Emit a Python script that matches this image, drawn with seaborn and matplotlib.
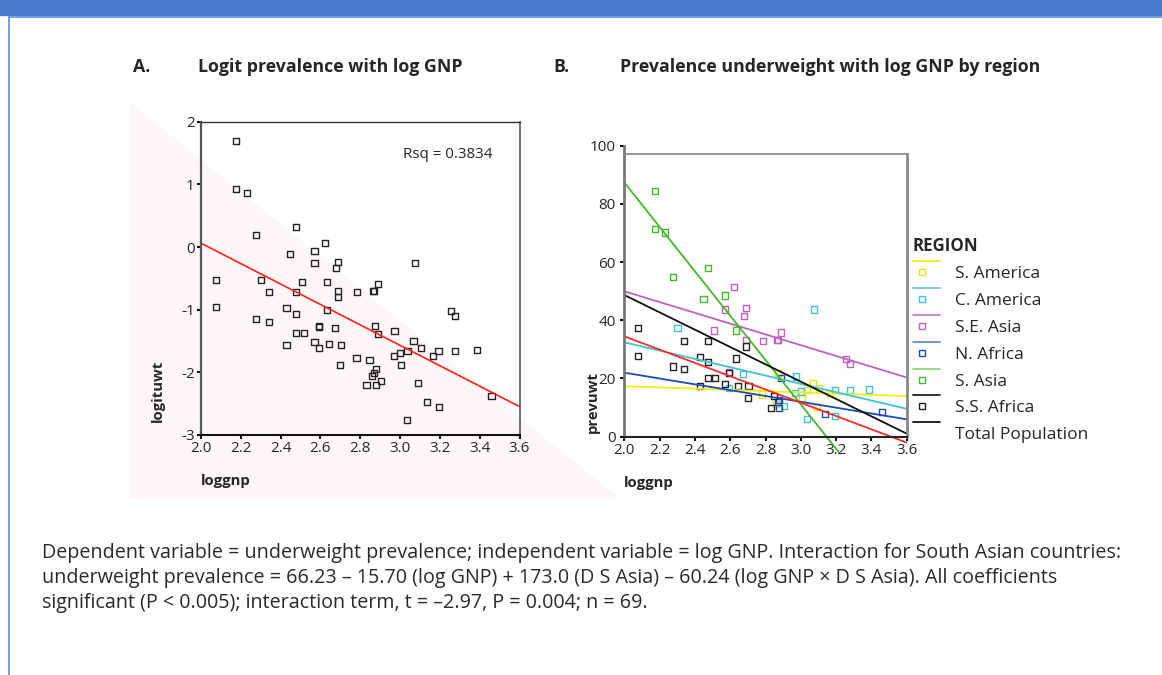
import matplotlib
matplotlib.use("Agg")
import matplotlib.pyplot as plt
from matplotlib.lines import Line2D
from matplotlib.patches import Polygon, Rectangle
from matplotlib.legend_handler import HandlerBase
import seaborn as sns
import pandas as pd

# one entry per country (n = 69)
loggnp = [2.176, 2.176, 2.230, 2.275, 2.476, 2.449, 2.570, 2.622, 2.570, 2.690,
          2.679, 3.077, 2.077, 2.302, 2.506, 2.632, 2.888, 2.870, 2.864, 2.476,
          2.340, 2.690, 2.690, 2.784, 2.077, 2.429, 2.476, 2.632, 2.275, 2.340,
          3.255, 3.277, 2.591, 2.594, 2.673, 2.873, 2.476, 2.516, 2.888, 2.972,
          2.570, 2.642, 2.704, 2.429, 2.591, 3.067, 3.104, 3.037, 3.193, 3.277,
          3.386, 3.166, 3.000, 2.968, 2.781, 2.846, 3.005, 2.700, 2.878, 2.871,
          2.858, 2.831, 2.878, 2.906, 3.092, 3.136, 3.196, 3.459, 3.035]
logituwt = [1.686, 0.920, 0.856, 0.191, 0.324, -0.106, -0.059, 0.059, -0.255, -0.239,
            -0.340, -0.255, -0.521, -0.521, -0.553, -0.553, -0.585, -0.697, -0.703, -0.718,
            -0.718, -0.702, -0.798, -0.718, -0.952, -0.968, -1.064, -1.000, -1.149, -1.197,
            -1.016, -1.101, -1.271, -1.262, -1.298, -1.266, -1.367, -1.367, -1.383, -1.346,
            -1.516, -1.548, -1.564, -1.564, -1.617, -1.495, -1.612, -1.660, -1.660, -1.660,
            -1.644, -1.745, -1.697, -1.745, -1.777, -1.809, -1.878, -1.878, -1.941, -2.005,
            -2.064, -2.207, -2.207, -2.144, -2.176, -2.473, -2.553, -2.372, -2.755]
prevuwt = [84.4, 71.5, 70.2, 54.8, 58.0, 47.4, 48.5, 51.5, 43.7, 44.1,
           41.6, 43.7, 37.3, 37.3, 36.5, 36.5, 35.8, 33.2, 33.1, 32.8,
           32.8, 33.1, 31.0, 32.8, 27.8, 27.5, 25.7, 26.9, 24.1, 23.2,
           26.6, 25.0, 21.9, 22.1, 21.5, 22.0, 20.3, 20.3, 20.1, 20.7,
           18.0, 17.5, 17.3, 17.3, 16.6, 18.3, 16.6, 16.0, 16.0, 16.0,
           16.2, 14.9, 15.5, 14.9, 14.5, 14.1, 13.3, 13.3, 12.6, 11.9,
           11.3, 9.9, 9.9, 10.5, 10.2, 7.8, 7.2, 8.5, 6.0]
region = ["S. Asia", "S. Asia", "S. Asia", "S. Asia", "S. Asia", "S. Asia", "S. Asia", "S.E. Asia", "S.E. Asia", "S.E. Asia",
          "S.E. Asia", "C. America", "S.S. Africa", "C. America", "S.E. Asia", "S. Asia", "S.E. Asia", "S.E. Asia", "S.E. Asia", "S.S. Africa",
          "S.S. Africa", "S.E. Asia", "S.S. Africa", "S.E. Asia", "S.S. Africa", "S.S. Africa", "S.S. Africa", "S.S. Africa", "S.S. Africa", "S.S. Africa",
          "S.E. Asia", "S.E. Asia", "S.S. Africa", "S.E. Asia", "C. America", "S. America", "S.S. Africa", "S.S. Africa", "N. Africa", "C. America",
          "S.S. Africa", "S.S. Africa", "S.S. Africa", "S.S. Africa", "C. America", "S. America", "S. America", "S. America", "C. America", "C. America",
          "C. America", "S. America", "C. America", "C. America", "S. America", "S.S. Africa", "S. America", "S.S. Africa", "N. Africa", "N. Africa",
          "S. America", "S.S. Africa", "N. Africa", "C. America", "S. America", "N. Africa", "C. America", "N. Africa", "C. America"]

regions = ["S. America", "C. America", "S.E. Asia", "N. Africa", "S. Asia", "S.S. Africa"]
marker_colors = ["#e8e400", "#3ec3d8", "#c060c0", "#1c4cb4", "#44b82a", "#222222"]
fit_colors = ["#f2ee10", "#3ec3d8", "#c060c0", "#1c4cb4", "#44b82a", "#ff2a2a"]
legend_line_colors = ["#f5f000", "#6cc8e2", "#c87ec8", "#6c8cd0", "#8ed67a", "#222222"]
rsq_text = "Rsq = 0.3834"

footnote = [
    "Dependent variable = underweight prevalence; independent variable = log GNP. Interaction for South Asian countries:",
    "underweight prevalence = 66.23 \u2013 15.70 (log GNP) + 173.0 (D S Asia) \u2013 60.24 (log GNP \u00d7 D S Asia). All coefficients",
    "significant (P < 0.005); interaction term, t = \u20132.97, P = 0.004; n = 69.",
]

df = pd.DataFrame({"loggnp": loggnp, "logituwt": logituwt,
                   "prevuwt": prevuwt, "region": region})


class RegionHandler(HandlerBase):
    # SPSS-style legend row: fit line drawn above the marker
    def __init__(self, line_color, marker_color):
        super().__init__()
        self.line_color = line_color
        self.marker_color = marker_color

    def create_artists(self, legend, orig_handle, xdescent, ydescent,
                       width, height, fontsize, trans):
        y = height / 2 - ydescent
        arts = [Line2D([-xdescent, width - xdescent], [y + 0.63 * fontsize] * 2,
                       color=self.line_color, lw=1.3, transform=trans)]
        if self.marker_color is not None:
            arts.append(Line2D([0.33 * width - xdescent], [y], marker="s", ms=4.2,
                               mfc="none", mec=self.marker_color, mew=1.0,
                               ls="none", transform=trans))
        return arts


def px(x, y):
    return x / 1162, 1 - y / 675


sns.set_style("white")
plt.rcParams["font.family"] = ["Open Sans", "DejaVu Sans"]
plt.rcParams["axes.unicode_minus"] = False

fig = plt.figure(figsize=(11.62, 6.75), dpi=100)

# page decoration
fig.patches.append(Rectangle(px(0, 15), 1, 15 / 675, transform=fig.transFigure,
                             color="#4479cc", zorder=-5))
fig.lines.append(Line2D([8.5 / 1162, 1], [1 - 16.5 / 675] * 2, transform=fig.transFigure,
                        color="#5b8fe0", lw=1.2))
fig.lines.append(Line2D([8.5 / 1162] * 2, [0, 1 - 16.5 / 675], transform=fig.transFigure,
                        color="#5b8fe0", lw=1.2))
fig.patches.append(Polygon([px(130, 103), px(130, 498), px(618, 498)], closed=True,
                           transform=fig.transFigure, color="#fff7f7", zorder=-5))

# titles
tfs = 12.8
fig.text(*px(133, 67), "A.", fontsize=tfs, fontweight="bold", va="center")
fig.text(*px(198, 67), "Logit prevalence with log GNP", fontsize=tfs, fontweight="bold", va="center")
fig.text(*px(553, 67), "B.", fontsize=tfs, fontweight="bold", va="center")
fig.text(*px(620, 67), "Prevalence underweight with log GNP by region", fontsize=tfs,
         fontweight="bold", va="center")

xticks = [2.0, 2.2, 2.4, 2.6, 2.8, 3.0, 3.2, 3.4, 3.6]

# ---------- panel A ----------
axA = fig.add_axes([201 / 1162, 1 - 435 / 675, 318.5 / 1162, 313.3 / 675])
axA.set_facecolor("none")
axA.set_xlim(2.0, 3.6)
axA.set_ylim(-3, 2)
sns.regplot(data=df, x="loggnp", y="logituwt", scatter=False, ci=None, truncate=False,
            color="#ff2020", line_kws={"lw": 1.2}, ax=axA)
sns.scatterplot(data=df, x="loggnp", y="logituwt", marker="s", s=20, color="#222222",
                facecolor="none", edgecolor="#222222", linewidth=1.0, ax=axA)
axA.set_xlim(2.0, 3.6)
axA.set_ylim(-3, 2)
axA.set_xticks(xticks)
axA.set_xticklabels([f"{t:.1f}" for t in xticks])
axA.set_yticks([-3, -2, -1, 0, 1, 2])
axA.text(0.634, 0.894, rsq_text, transform=axA.transAxes, fontsize=10.9, va="center")
axA.set_xlabel("loggnp", fontsize=10.7, fontweight="bold", loc="left")
axA.xaxis.set_label_coords(0, -0.125)
axA.set_ylabel("logituwt", fontsize=10.7, fontweight="bold")
axA.yaxis.set_label_coords(-0.112, 0.14)
for side, c, w in [("left", "#555555", 1.6), ("right", "#555555", 1.2),
                   ("top", "#333333", 1.0), ("bottom", "#111111", 1.5)]:
    axA.spines[side].set_color(c)
    axA.spines[side].set_linewidth(w)

# ---------- panel B ----------
axB = fig.add_axes([624.3 / 1162, 1 - 452.7 / 675, 282.4 / 1162, 307 / 675])
axB.set_facecolor("none")
axB.set_xlim(2.0, 3.6)
axB.set_ylim(-5.5, 100)
for r, fc in zip(regions, fit_colors):
    sns.regplot(data=df[df["region"] == r], x="loggnp", y="prevuwt", scatter=False,
                ci=None, truncate=False, color=fc, line_kws={"lw": 1.3}, ax=axB)
sns.regplot(data=df, x="loggnp", y="prevuwt", scatter=False, ci=None, truncate=False,
            color="#111111", line_kws={"lw": 1.3}, ax=axB)
for r, mc in zip(regions, marker_colors):
    sns.scatterplot(data=df[df["region"] == r], x="loggnp", y="prevuwt", marker="s", s=20,
                    color=mc, facecolor="none", edgecolor=mc, linewidth=1.0, ax=axB)
axB.set_xlim(2.0, 3.6)
axB.set_ylim(-5.5, 100)
axB.set_xticks(xticks)
axB.set_xticklabels([f"{t:.1f}" for t in xticks])
axB.set_yticks([0, 20, 40, 60, 80, 100])
axB.spines["bottom"].set_position(("data", 0))
axB.spines["top"].set_position(("data", 97))
axB.spines["left"].set_bounds(0, 100)
axB.spines["right"].set_bounds(0, 97)
for side, c, w in [("left", "#777777", 2.0), ("right", "#888888", 2.0),
                   ("top", "#888888", 1.2), ("bottom", "#222222", 1.5)]:
    axB.spines[side].set_color(c)
    axB.spines[side].set_linewidth(w)
axB.set_xlabel("loggnp", fontsize=10.7, fontweight="bold", loc="left")
axB.xaxis.set_label_coords(0, -0.075)
axB.set_ylabel("prevuwt", fontsize=10.7, fontweight="bold")
axB.yaxis.set_label_coords(-0.088, 0.165)

for ax in (axA, axB):
    ax.tick_params(axis="both", which="major", direction="out", length=3, width=1.5,
                   color="#111111", labelsize=11, pad=1.5, bottom=True, left=True)
axB.tick_params(axis="y", pad=3)

# legend
handles, labels, hmap = [], [], {}
for r, lc, mc in zip(regions, legend_line_colors, marker_colors):
    h = Line2D([], [])
    handles.append(h)
    labels.append(r)
    hmap[h] = RegionHandler(lc, mc)
h = Line2D([], [])
handles.append(h)
labels.append("Total Population")
hmap[h] = RegionHandler("#111111", None)
fig.legend(handles, labels, handler_map=hmap, title="REGION", loc="upper left",
           bbox_to_anchor=px(913, 237), bbox_transform=fig.transFigure, frameon=False,
           fontsize=12.5, title_fontproperties={"weight": "bold", "size": 12.2},
           alignment="left", handlelength=1.55, handletextpad=0.86, labelspacing=0.62,
           borderpad=0, borderaxespad=0)

# footnote
for i, line in enumerate(footnote):
    fig.text(*px(42, 553 + 25 * i), line, fontsize=14.2, va="center", color="#2a2a2a")

fig.savefig("out.png", dpi=100)
